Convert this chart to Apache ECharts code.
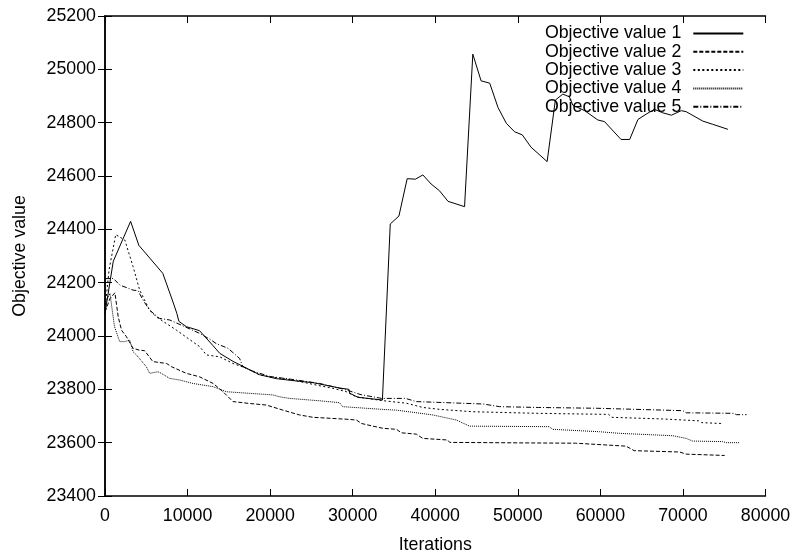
<!DOCTYPE html>
<html><head><meta charset="utf-8">
<script src="https://cdn.jsdelivr.net/npm/echarts@6/dist/echarts.min.js"></script>
<style>html,body{margin:0;padding:0;background:#fff}#c{width:793px;height:554px}</style>
</head><body><div id="c"></div>
<script>
const seriesNames = ["Objective value 1","Objective value 2","Objective value 3","Objective value 4","Objective value 5"];
const xTicks = [0,10000,20000,30000,40000,50000,60000,70000,80000];
const yTicks = [23400,23600,23800,24000,24200,24400,24600,24800,25000,25200];

const s1x = [0,1000,3100,4100,7000,8150,8700,8950,9850,11450,13050,13900,15500,17100,18700,20750,23550,25200,28400,29550,29650,30650,33600,34550,35600,36600,37600,38500,39500,40500,41550,43550,44550,45550,46600,47600,48600,49600,50550,51600,53550,54550,55450,56250,56650,58100,59700,60500,62500,63550,64550,65550,66550,67550,68600,69800,70400,72400,73600,75450];
const s1y = [24085,24280,24430,24340,24235,24135,24085,24055,24035,24020,23965,23935,23905,23880,23855,23840,23830,23825,23805,23800,23785,23770,23760,24420,24450,24590,24588,24604,24570,24545,24505,24485,25057,24957,24948,24857,24798,24766,24754,24708,24654,24885,24907,24897,24866,24845,24810,24804,24737,24737,24812,24832,24850,24837,24828,24845,24841,24806,24794,24775];

const s2x = [0,600,1200,1600,2000,2600,3400,4150,4800,5800,7450,8050,9850,11450,13100,14300,15500,17500,19550,21550,23550,25200,29200,30450,31050,32450,33650,35300,35900,37700,38500,41500,41750,51400,57000,57100,63100,64100,69600,70400,75050];
const s2y = [24090,24140,24162,24072,24022,23997,23954,23947,23945,23904,23897,23885,23860,23847,23822,23791,23754,23747,23741,23722,23704,23695,23688,23685,23672,23662,23654,23650,23637,23632,23616,23610,23601,23599,23598,23594,23587,23570,23565,23557,23552];

const s3x = [0,500,1300,2400,3400,4200,5400,6200,8650,11470,12280,13890,15500,17120,18730,19940,22760,25590,27600,29230,30440,33500,36500,38500,40500,44500,52500,61000,61400,67500,71900,72300,74600,74800];
const s3y = [24100,24250,24380,24360,24260,24172,24097,24072,24022,23960,23929,23922,23897,23879,23854,23847,23835,23816,23804,23791,23772,23758,23748,23732,23725,23716,23710,23706,23695,23689,23682,23675,23672,23664];

const s4x = [0,600,1150,1780,2390,3000,3400,3800,5000,5410,6420,6820,7830,9050,10650,13080,14700,17520,20340,21150,22350,26000,28400,28800,33500,35300,39700,42550,44150,53800,54240,59900,62300,68770,70390,71190,74820,75230,76840];
const s4y = [24120,24160,24035,23979,23979,23985,23941,23929,23885,23860,23866,23860,23841,23835,23822,23810,23791,23785,23779,23772,23766,23757,23750,23735,23725,23722,23704,23685,23662,23660,23650,23641,23635,23626,23616,23606,23604,23600,23600];

const s5x = [0,1000,1800,3400,4000,4600,5400,6600,7850,11450,12850,13450,14900,16300,16700,17500,20000,23000,26000,29000,31000,33500,36400,37700,45800,47800,52500,59600,70000,70400,76100,76500,77700];
const s5y = [24215,24216,24191,24172,24170,24135,24097,24066,24060,24010,23985,23972,23954,23916,23885,23872,23848,23836,23822,23800,23780,23766,23766,23754,23745,23735,23732,23729,23720,23712,23710,23705,23705];

const xs = [s1x,s2x,s3x,s4x,s5x];
const ys = [s1y,s2y,s3y,s4y,s5y];
const dashes = ['solid',[4,2],[2,2.5],[1,1],[5,2,1,2]];

const chart = echarts.init(document.getElementById('c'), null, {renderer:'canvas'});
const font = 'Liberation Sans, Arial, Helvetica, sans-serif';
const FS = 17.8;
const series = seriesNames.map((n,i)=>({
  name:n, type:'line', xAxisIndex:0, yAxisIndex:0,
  data: xs[i].map((x,j)=>[x, ys[i][j]]),
  showSymbol:false, symbol:'none', animation:false,
  lineStyle:{color:'#000', width:1, type:dashes[i]},
  itemStyle:{color:'#000'},
  z: 5-i
}));
const axisCommon = {
  axisLine:{show:true, lineStyle:{color:'#000', width:1.5}},
  axisTick:{show:true, inside:true, length:7, lineStyle:{color:'#000', width:1}},
  splitLine:{show:false}
};
const plain = v => String(v);
chart.setOption({
  animation:false,
  backgroundColor:'#fff',
  textStyle:{fontFamily:font},
  grid:{left:105, right:27.5, top:16, bottom:58, show:false, containLabel:false, outerBoundsMode:'none'},
  legend:{
    show:true, orient:'vertical', right:43.7, top:19.5, align:'right',
    itemWidth:50, itemHeight:2, itemGap:0.3,
    itemStyle:{opacity:0},
    textStyle:{fontFamily:font, fontSize:FS, lineHeight:18, color:'#000', padding:[0,7,0,0]},
    data: seriesNames
  },
  xAxis:[
    Object.assign({type:'value', position:'bottom', min:xTicks[0], max:xTicks[xTicks.length-1], interval:xTicks[1]-xTicks[0],
      name:'Iterations', nameLocation:'middle', nameGap:40,
      nameTextStyle:{fontFamily:font, fontSize:FS, color:'#000'},
      axisLabel:{fontFamily:font, fontSize:FS, color:'#000', margin:11, formatter:plain}}, axisCommon),
    Object.assign({type:'value', position:'top', min:xTicks[0], max:xTicks[xTicks.length-1], interval:xTicks[1]-xTicks[0],
      axisLabel:{show:false}}, axisCommon)
  ],
  yAxis:[
    Object.assign({type:'value', position:'left', min:yTicks[0], max:yTicks[yTicks.length-1], interval:yTicks[1]-yTicks[0],
      name:'Objective value', nameLocation:'middle', nameGap:76, nameRotate:90,
      nameTextStyle:{fontFamily:font, fontSize:FS, color:'#000'},
      axisLabel:{fontFamily:font, fontSize:FS, color:'#000', margin:9, formatter:plain}}, axisCommon),
    Object.assign({type:'value', position:'right', min:yTicks[0], max:yTicks[yTicks.length-1], interval:yTicks[1]-yTicks[0],
      axisLabel:{show:false}}, axisCommon)
  ],
  series: series
});
</script></body></html>
